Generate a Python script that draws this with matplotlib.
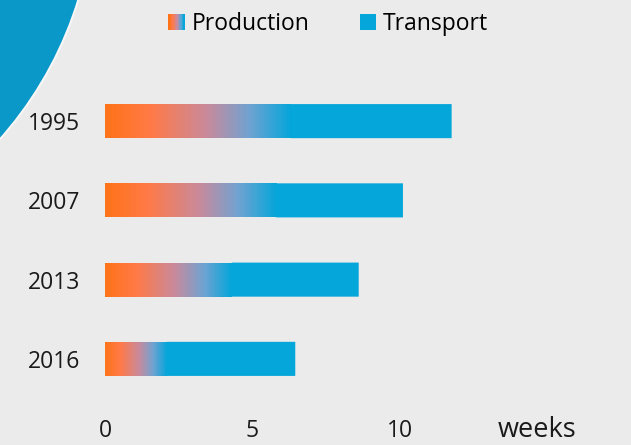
import numpy as np
import matplotlib
matplotlib.use("Agg")
import matplotlib.pyplot as plt
from matplotlib.colors import LinearSegmentedColormap
from matplotlib.patches import Circle, Rectangle
from matplotlib.legend_handler import HandlerBase

plt.rcParams["font.family"] = ["Open Sans", "DejaVu Sans"]

# --- data ---
years = ["1995", "2007", "2013", "2016"]
production = [6.3, 5.8, 4.3, 2.1]
transport = [5.45, 4.3, 4.3, 4.35]
xticks = [0, 5, 10]

bg = "#ebebeb"
blue = "#05a6da"
grad = LinearSegmentedColormap.from_list(
    "prod", [(0.0, "#ff7318"), (0.25, "#ff7a48"), (0.55, "#c98a9c"),
             (0.78, "#6fa3d2"), (1.0, blue)])

fig = plt.figure(figsize=(6.31, 4.45), dpi=100, facecolor=bg)

# big decorative circle in the corner
bgax = fig.add_axes([0, 0, 1, 1], zorder=0)
bgax.set_xlim(0, 631)
bgax.set_ylim(445, 0)
bgax.set_aspect("equal")
bgax.axis("off")
bgax.add_patch(Circle((-282, -111), 377, facecolor="#0a98c9",
                      edgecolor="#f7f7f7", linewidth=1.5))

# 29.5 px per week, zero at x=105 px; rows 79.3 px apart
ax = fig.add_axes([105 / 631, 1 - 398.5 / 445, 354 / 631, 317 / 445], zorder=1)
ax.patch.set_alpha(0)

h = 0.43
gimg = np.linspace(0, 1, 256).reshape(1, -1)
for i, (p, t) in enumerate(zip(production, transport)):
    pbar = ax.barh(i, p, height=h, color="none", snap=False, zorder=2)[0]
    im = ax.imshow(gimg, cmap=grad, aspect="auto", interpolation="bilinear",
                   extent=[0, p, i + h / 2 + 0.02, i - h / 2 - 0.02], zorder=2)
    im.set_clip_path(pbar)
    ax.barh(i, t, left=p, height=h, color=blue, snap=False, zorder=2)

ax.set_xlim(0, 12)
ax.set_ylim(3.5, -0.5)
ax.set_yticks(range(len(years)))
ax.set_yticklabels(years)
ax.set_xticks(xticks)
ax.tick_params(length=0, labelsize=16.5, colors="#1a1a1a")
ax.tick_params(axis="y", pad=18)
ax.tick_params(axis="x", pad=15)
for s in ax.spines.values():
    s.set_visible(False)

fig.text(537 / 631, 1 - 430 / 445, "weeks", ha="center", va="center",
         fontsize=19.5, color="#1a1a1a")


class GradHandler(HandlerBase):
    def create_artists(self, legend, orig, xd, yd, w, hh, fontsize, trans):
        n = 12
        arts = []
        for k in range(n):
            r = Rectangle((xd + w * k / n, yd), w / n + 0.3, hh,
                          facecolor=grad(k / (n - 1)), edgecolor="none",
                          transform=trans)
            arts.append(r)
        return arts


h1 = Rectangle((0, 0), 1, 1)
h2 = Rectangle((0, 0), 1, 1, facecolor=blue)
fig.legend([h1, h2], ["Production", "Transport"],
           handler_map={h1: GradHandler()},
           loc="center", bbox_to_anchor=(328 / 631, 1 - 24 / 445),
           ncol=2, frameon=False, fontsize=16.5, handlelength=0.7,
           handleheight=0.7, handletextpad=0.3, columnspacing=2.2)

fig.savefig("out.png", dpi=100, facecolor=bg)
